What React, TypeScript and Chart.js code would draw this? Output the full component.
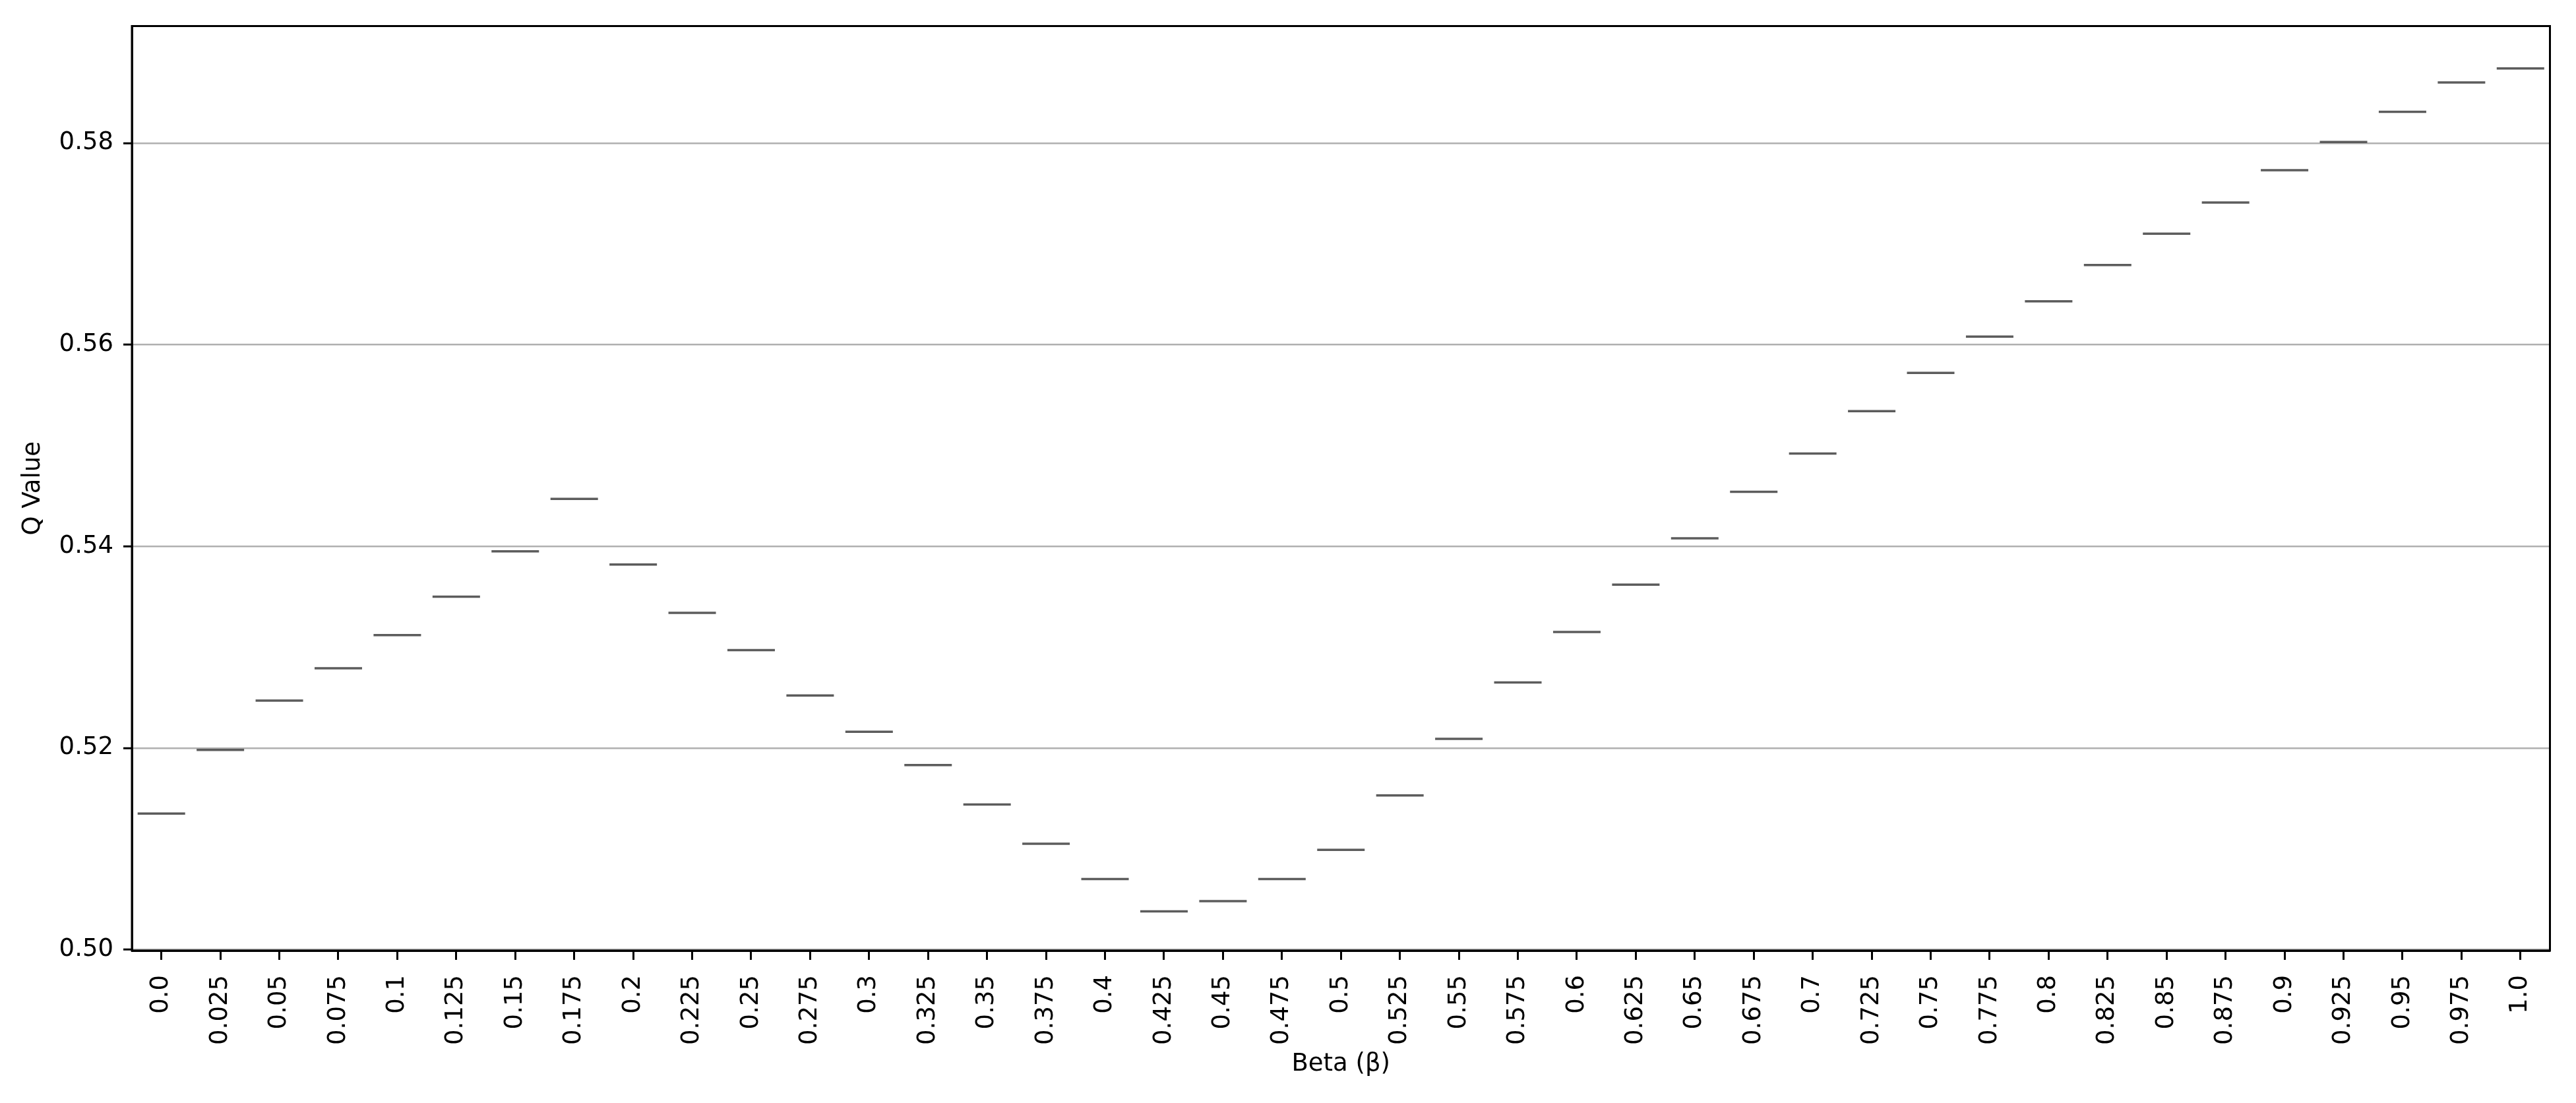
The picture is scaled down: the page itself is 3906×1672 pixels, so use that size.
import React, { useEffect, useRef } from "react";
import { Chart, registerables } from "chart.js";

Chart.register(...registerables);

const betaLabels: string[] = [
  "0.0", "0.025", "0.05", "0.075", "0.1", "0.125", "0.15", "0.175", "0.2", "0.225",
  "0.25", "0.275", "0.3", "0.325", "0.35", "0.375", "0.4", "0.425", "0.45", "0.475",
  "0.5", "0.525", "0.55", "0.575", "0.6", "0.625", "0.65", "0.675", "0.7", "0.725",
  "0.75", "0.775", "0.8", "0.825", "0.85", "0.875", "0.9", "0.925", "0.95", "0.975", "1.0",
];

const qValues: number[] = [
  0.5135, 0.5198, 0.5247, 0.5279, 0.5312, 0.5350, 0.5395, 0.5447, 0.5382, 0.5334,
  0.5297, 0.5252, 0.5216, 0.5183, 0.5144, 0.5105, 0.5070, 0.5038, 0.5048, 0.5070,
  0.5099, 0.5153, 0.5209, 0.5265, 0.5315, 0.5362, 0.5408, 0.5454, 0.5492, 0.5534,
  0.5572, 0.5608, 0.5643, 0.5679, 0.5710, 0.5741, 0.5773, 0.5801, 0.5831, 0.5860, 0.5874,
];

const yTickValues: number[] = [0.5, 0.52, 0.54, 0.56, 0.58];
const Y_MIN = 0.4999;
const Y_MAX = 0.5916;

const WIDTH = 3906;
const HEIGHT = 1672;
const FONT = "'DejaVu Sans', 'Liberation Sans', sans-serif";
const LINE_COLOR = "#5c5c5c";

// target plot-area box (pixels)
const AREA = { left: 200, top: 33, right: 3878, bottom: 1441 };

const framePlugin = {
  id: "frame",
  afterDatasetsDraw(chart: any) {
    const { ctx, chartArea: a } = chart;
    ctx.save();
    ctx.strokeStyle = "#000";
    ctx.lineWidth = 3;
    ctx.strokeRect(a.left, a.top, a.right - a.left, a.bottom - a.top);
    ctx.restore();
  },
};

export default function App() {
  const canvasRef = useRef<HTMLCanvasElement | null>(null);

  useEffect(() => {
    if (!canvasRef.current) return;
    const chart = new Chart(canvasRef.current, {
      type: "line",
      data: {
        labels: betaLabels,
        datasets: [
          {
            data: qValues,
            showLine: false,
            pointStyle: "line",
            pointRadius: 36,
            pointHoverRadius: 36,
            pointBorderWidth: 3.5,
            pointHoverBorderWidth: 3.5,
            borderColor: LINE_COLOR,
            pointBorderColor: LINE_COLOR,
            backgroundColor: LINE_COLOR,
            pointBackgroundColor: LINE_COLOR,
          },
        ],
      },
      options: {
        responsive: false,
        animation: false,
        devicePixelRatio: 1,
        events: [],
        layout: { padding: { left: 0, right: 28, top: 33, bottom: 0 } },
        plugins: {
          legend: { display: false },
          tooltip: { enabled: false },
        },
        scales: {
          x: {
            type: "category",
            offset: true,
            grid: {
              display: true,
              drawOnChartArea: false,
              drawTicks: true,
              tickLength: 14,
              tickColor: "#000",
              tickWidth: 3,
              offset: false,
            },
            border: { display: true, color: "#000", width: 3 },
            ticks: {
              autoSkip: false,
              minRotation: 90,
              maxRotation: 90,
              padding: 23,
              color: "#000",
              font: { family: FONT, size: 37 },
            },
            title: {
              display: true,
              text: "Beta (β)",
              color: "#000",
              font: { family: FONT, size: 37 },
              padding: { top: 0, bottom: 36 },
            },
            afterFit: (s: any) => {
              s.height = 231;
              s.paddingLeft = 0;
              s.paddingRight = 0;
            },
          },
          y: {
            type: "linear",
            min: Y_MIN,
            max: Y_MAX,
            afterBuildTicks: (s: any) => {
              s.ticks = yTickValues.map((v) => ({ value: v }));
            },
            grid: {
              color: "#b0b0b0",
              lineWidth: 2.5,
              drawTicks: true,
              tickLength: 13,
              tickColor: "#000",
              tickWidth: 3,
            },
            border: { display: true, color: "#000", width: 3 },
            ticks: {
              padding: 15,
              color: "#000",
              font: { family: FONT, size: 37 },
              callback: (v: any) => Number(v).toFixed(2),
            },
            title: {
              display: true,
              text: "Q Value",
              color: "#000",
              font: { family: FONT, size: 37 },
              padding: { top: 28, bottom: 0 },
            },
            afterFit: (s: any) => {
              s.width = 200;
              s.paddingTop = 0;
              s.paddingBottom = 0;
            },
          },
        },
      },
      plugins: [framePlugin],
    } as any);

    // nudge the layout padding so the plot area lands on the target box
    for (let i = 0; i < 4; i++) {
      const a = chart.chartArea;
      const p: any = (chart.options as any).layout.padding;
      const dr = a.right - AREA.right;
      const dt = AREA.top - a.top;
      const db = a.bottom - AREA.bottom;
      const dl = AREA.left - a.left;
      if (Math.abs(dr) < 0.5 && Math.abs(dt) < 0.5 && Math.abs(db) < 0.5 && Math.abs(dl) < 0.5) break;
      p.right = Math.max(0, p.right + dr);
      p.top = Math.max(0, p.top + dt);
      p.bottom = Math.max(0, p.bottom + db);
      p.left = Math.max(0, p.left + dl);
      chart.update();
    }

    return () => chart.destroy();
  }, []);

  return (
    <div
      style={{
        position: "absolute",
        left: 0,
        top: 0,
        width: WIDTH,
        height: HEIGHT,
        background: "#fff",
      }}
    >
      <canvas ref={canvasRef} width={WIDTH} height={HEIGHT} style={{ display: "block" }} />
    </div>
  );
}
